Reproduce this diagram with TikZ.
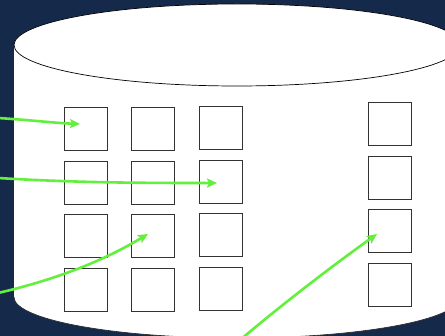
\documentclass[tikz,border=0pt]{standalone}
\usetikzlibrary{arrows.meta}
\definecolor{bg}{HTML}{152A4A}
\definecolor{grn}{HTML}{62F03C}
\begin{document}
\begin{tikzpicture}[x=1pt,y=-1pt,
  box/.style={draw=black!80, line width=0.8pt, fill=white, minimum size=43pt, inner sep=0pt, outer sep=0pt, anchor=north west},
  arr/.style={draw=grn, line width=2.6pt, -{Stealth[length=10pt,width=9pt,inset=2pt]}}]
\fill[bg] (0,0) rectangle (445,336);
\useasboundingbox (0,0) rectangle (445,336);
% cylinder body
\fill[white] (14,45) -- (14,297) arc[start angle=180, end angle=0, x radius=223, y radius=41] -- (460,45) -- cycle;
\draw[black!85, line width=0.6pt] (14,297) arc[start angle=180, end angle=0, x radius=223, y radius=41];
% top ellipse
\draw[black, line width=0.7pt, fill=white] (237,45) ellipse [x radius=223, y radius=41];
% squares
\node[box] (b11) at (64,107) {};
\node[box] (b12) at (64,161) {};
\node[box] (b13) at (64,214) {};
\node[box] (b14) at (64,268) {};
\node[box] (b21) at (131,107) {};
\node[box] (b22) at (131,161) {};
\node[box] (b23) at (131,214) {};
\node[box] (b24) at (131,268) {};
\node[box] (b31) at (199,106) {};
\node[box] (b32) at (199,160) {};
\node[box] (b33) at (199,213) {};
\node[box] (b34) at (199,267) {};
\node[box] (b41) at (368,102) {};
\node[box] (b42) at (368,156) {};
\node[box] (b43) at (368,209) {};
\node[box] (b44) at (368,263) {};
% arrow ends
\coordinate (s1) at (-2,118);
\coordinate (t1) at (80,124);
\coordinate (s2) at (-2,178);
\coordinate (t2) at (217,183);
\coordinate (s3) at (-2,293);
\coordinate (t3) at (148,234);
\coordinate (s4) at (240,340);
\coordinate (t4) at (377,234);
\draw[arr] (s1) .. controls (30,120) and (55,123) .. (t1);
\draw[arr] (s2) .. controls (80,183) and (150,183) .. (t2);
\draw[arr] (s3) .. controls (50,281) and (100,263) .. (t3);
\draw[arr] (s4) .. controls (285,302) and (335,264) .. (t4);
\end{tikzpicture}
\end{document}
